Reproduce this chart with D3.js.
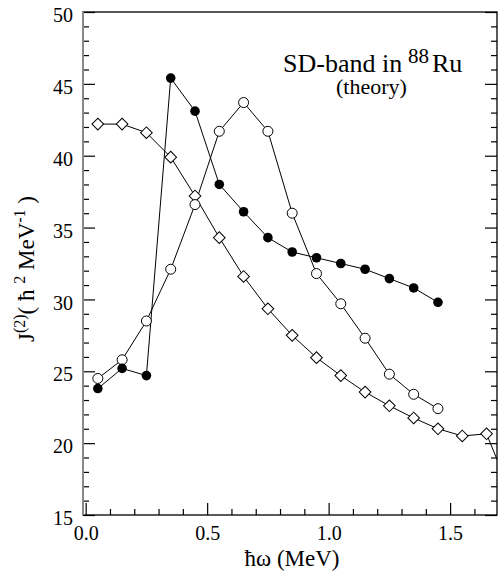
<!DOCTYPE html>
<html>
<head>
<meta charset="utf-8">
<script src="https://cdn.jsdelivr.net/npm/d3@7"></script>
<style>
  body { margin: 0; background: #fff; }
  svg { display: block; }
  text { font-family: "Liberation Serif", "Times New Roman", serif; fill: #000; }
</style>
</head>
<body>
<script>
// hbar omega (MeV)
var omega = [0.05, 0.15, 0.25, 0.35, 0.45, 0.55, 0.65, 0.75, 0.85, 0.95, 1.05, 1.15, 1.25, 1.35, 1.45];
var omegaDiamond = [0.05, 0.15, 0.25, 0.35, 0.45, 0.55, 0.65, 0.75, 0.85, 0.95, 1.05, 1.15, 1.25, 1.35, 1.45, 1.55, 1.65, 1.75];

// J(2) values
var filledJ = [23.8, 25.2, 24.7, 45.4, 43.1, 38.0, 36.1, 34.3, 33.3, 32.9, 32.5, 32.1, 31.45, 30.8, 29.8];
var openJ = [24.5, 25.8, 28.5, 32.1, 36.6, 41.7, 43.7, 41.7, 36.0, 31.8, 29.7, 27.3, 24.8, 23.4, 22.4];
var diamondJ = [42.2, 42.2, 41.6, 39.9, 37.2, 34.3, 31.6, 29.35, 27.5, 25.95, 24.7, 23.55, 22.6, 21.75, 21.0, 20.5, 20.65, 16.5];

var xMajor = [0, 0.5, 1.0, 1.5];
var yMajor = [15, 20, 25, 30, 35, 40, 45, 50];

var W = 498, H = 576;
var pLeft = 83, pRight = 497, pTop = 12, pBottom = 515;

var svg = d3.select("body")
            .append("svg")
            .attr("width", W)
            .attr("height", H);

var x = d3.scaleLinear().domain([-0.011, 1.693]).range([pLeft, pRight]);
var y = d3.scaleLinear().domain([15, 50]).range([pBottom, pTop]);

var xMinor = d3.range(0.1, 1.7, 0.1).filter(function(v) { return Math.abs(v * 2 - Math.round(v * 2)) > 0.01; });
var yMinor = d3.range(16, 50, 1).filter(function(v) { return v % 5 != 0; });

////////////////////////////// axes //////////////////////////////
function styleAxis(g, fs) {
  g.select(".domain").remove();
  g.selectAll(".tick line").attr("stroke", "#000").attr("stroke-width", 1.2);
  g.selectAll(".tick text").attr("font-size", fs).attr("font-family", "Liberation Serif, serif");
}

// bottom
svg.append("g")
   .attr("transform", "translate(0," + pBottom + ")")
   .call(d3.axisBottom(x).tickValues(xMajor).tickSize(-12).tickPadding(11).tickFormat(d3.format(".1f")))
   .call(function(g) { styleAxis(g, 20); });
svg.append("g")
   .attr("transform", "translate(0," + pBottom + ")")
   .call(d3.axisBottom(x).tickValues(xMinor).tickSize(-6).tickFormat(""))
   .call(function(g) { styleAxis(g, 20); });

// left
svg.append("g")
   .attr("transform", "translate(" + pLeft + ",0)")
   .call(d3.axisLeft(y).tickValues(yMajor).tickSize(-12).tickPadding(10))
   .call(function(g) {
     styleAxis(g, 20);
     g.selectAll(".tick text").attr("dy", "0.48em");
   });
svg.append("g")
   .attr("transform", "translate(" + pLeft + ",0)")
   .call(d3.axisLeft(y).tickValues(yMinor).tickSize(-6).tickFormat(""))
   .call(function(g) { styleAxis(g, 20); });

// right
svg.append("g")
   .attr("transform", "translate(" + pRight + ",0)")
   .call(d3.axisRight(y).tickValues(yMajor).tickSize(-12).tickFormat(""))
   .call(function(g) { styleAxis(g, 20); });
svg.append("g")
   .attr("transform", "translate(" + pRight + ",0)")
   .call(d3.axisRight(y).tickValues(yMinor).tickSize(-6).tickFormat(""))
   .call(function(g) { styleAxis(g, 20); });

// frame
svg.append("rect")
   .attr("x", pLeft).attr("y", pTop)
   .attr("width", pRight - pLeft).attr("height", pBottom - pTop)
   .attr("fill", "none").attr("stroke", "#000").attr("stroke-width", 1.3);
svg.append("line")
   .attr("x1", pLeft).attr("x2", pLeft).attr("y1", pTop).attr("y2", pBottom)
   .attr("stroke", "#888").attr("stroke-width", 2);

////////////////////////////// data //////////////////////////////
svg.append("clipPath").attr("id", "plotclip")
   .append("rect")
   .attr("x", pLeft).attr("y", pTop)
   .attr("width", pRight - pLeft).attr("height", pBottom - pTop);

var plot = svg.append("g").attr("clip-path", "url(#plotclip)");

var line = d3.line()
             .x(function(d) { return x(d[0]); })
             .y(function(d) { return y(d[1]); });

var diamondPts = d3.zip(omegaDiamond, diamondJ);
var openPts = d3.zip(omega, openJ);
var filledPts = d3.zip(omega, filledJ);

[diamondPts, openPts, filledPts].forEach(function(pts) {
  plot.append("path")
      .datum(pts)
      .attr("d", line)
      .attr("fill", "none")
      .attr("stroke", "#000")
      .attr("stroke-width", 1);
});

var sq = d3.symbol().type(d3.symbolSquare).size(68);
plot.selectAll("path.diamond")
    .data(diamondPts)
    .enter()
    .append("path")
    .attr("class", "diamond")
    .attr("d", sq)
    .attr("transform", function(d) { return "translate(" + x(d[0]) + "," + y(d[1]) + ") rotate(45)"; })
    .attr("fill", "#fff")
    .attr("stroke", "#000")
    .attr("stroke-width", 1);

plot.selectAll("circle.open")
    .data(openPts)
    .enter()
    .append("circle")
    .attr("class", "open")
    .attr("cx", function(d) { return x(d[0]); })
    .attr("cy", function(d) { return y(d[1]); })
    .attr("r", 5)
    .attr("fill", "#fff")
    .attr("stroke", "#000")
    .attr("stroke-width", 1);

plot.selectAll("circle.filled")
    .data(filledPts)
    .enter()
    .append("circle")
    .attr("class", "filled")
    .attr("cx", function(d) { return x(d[0]); })
    .attr("cy", function(d) { return y(d[1]); })
    .attr("r", 4.8)
    .attr("fill", "#000");

////////////////////////////// texts //////////////////////////////
var t1 = svg.append("text").attr("x", 283).attr("y", 72).attr("font-size", 26);
t1.append("tspan").text("SD-band in");
t1.append("tspan").attr("x", 408).attr("dy", -9).attr("font-size", 21).text("88");
t1.append("tspan").attr("x", 432).attr("dy", 9).text("Ru");

svg.append("text")
   .attr("x", 336).attr("y", 94)
   .attr("font-size", 22)
   .text("(theory)");

svg.append("text")
   .attr("x", 292).attr("y", 566)
   .attr("text-anchor", "middle")
   .attr("font-size", 23)
   .text("ħω (MeV)");

var yl = svg.append("text")
            .attr("transform", "translate(34,269) rotate(-90)")
            .attr("text-anchor", "middle")
            .attr("font-size", 23);
yl.append("tspan").text("J");
yl.append("tspan").attr("dy", -9).attr("font-size", 16).text("(2)");
yl.append("tspan").attr("dy", 9).text("( ħ ");
yl.append("tspan").attr("dy", -9).attr("font-size", 16).text("2");
yl.append("tspan").attr("dy", 9).text(" MeV");
yl.append("tspan").attr("dy", -9).attr("font-size", 16).text("-1");
yl.append("tspan").attr("dy", 9).text(" )");
</script>
</body>
</html>
